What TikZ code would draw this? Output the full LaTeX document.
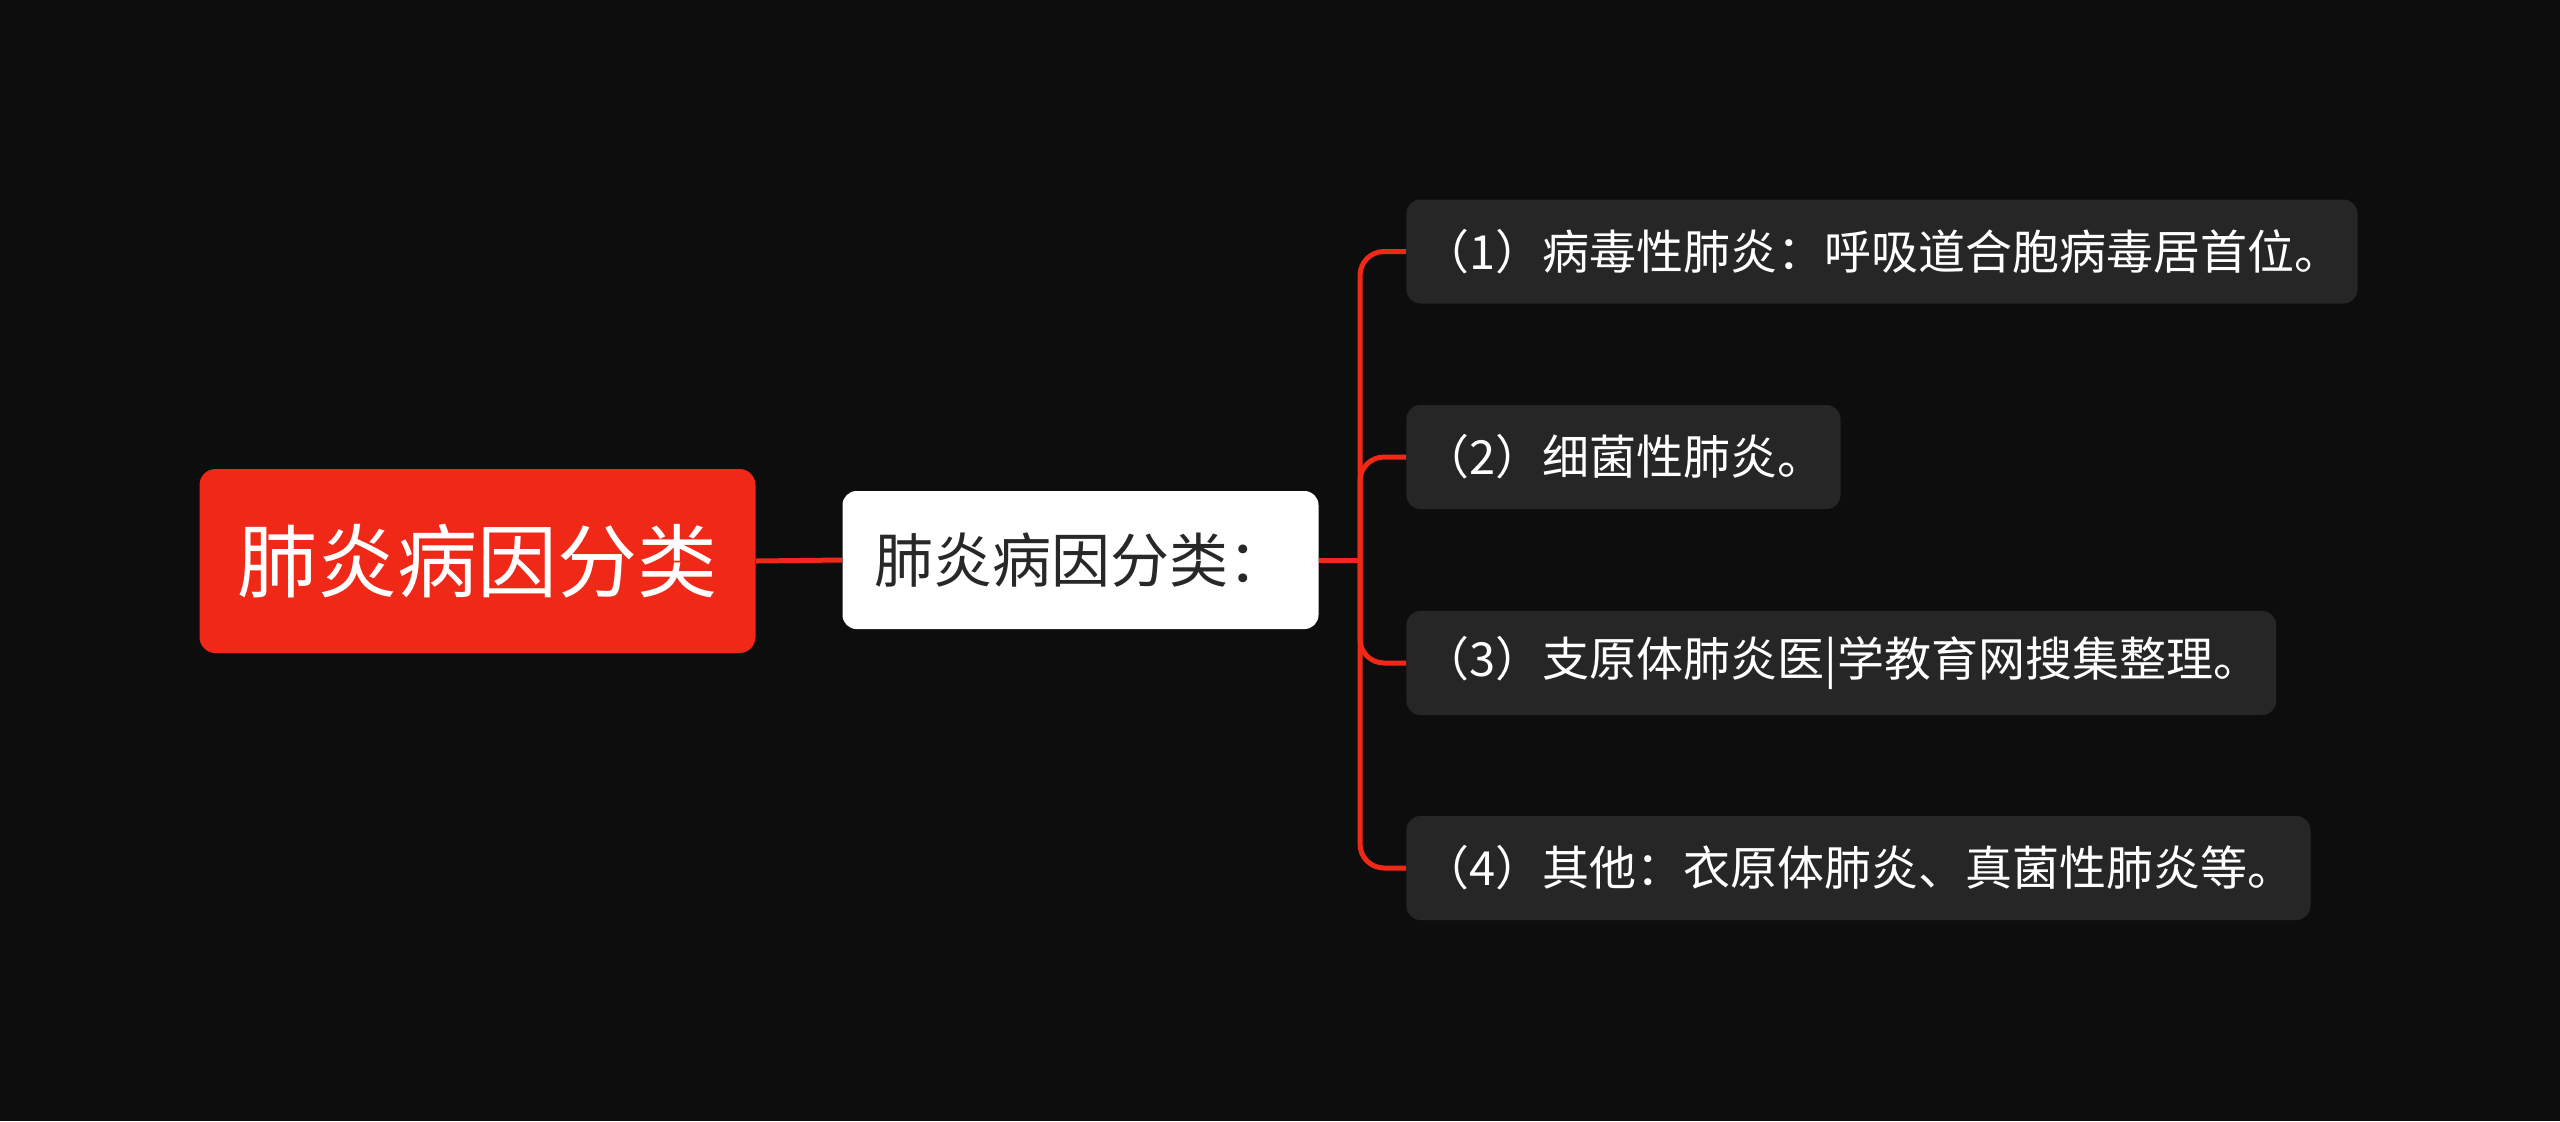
\documentclass[tikz,border=0pt]{standalone}
\usepackage{fontspec}
\usepackage{tikz}
\usetikzlibrary{positioning,calc}
\newfontfamily\cjk{Noto Sans CJK SC}
\definecolor{bgdark}{RGB}{13,13,13}
\definecolor{rootred}{RGB}{240,40,24}
\definecolor{leafgray}{RGB}{38,38,38}
\definecolor{midtext}{RGB}{40,40,40}

\begin{document}
\begin{tikzpicture}[x=1pt,y=1pt,
    every node/.style={font=\cjk},
    rootbox/.style={rounded corners=8pt,fill=rootred,text=white,
      minimum width=278pt,minimum height=92pt,font=\cjk\fontsize{40}{48}\selectfont},
    midbox/.style={rounded corners=7pt,fill=white,text=midtext,
      minimum width=238pt,minimum height=69pt,font=\cjk\fontsize{29.5}{36}\selectfont},
    leafbox/.style={rounded corners=7pt,fill=leafgray,text=white,anchor=west,
      inner xsep=8pt,minimum height=52pt,font=\cjk\fontsize{23.5}{28}\selectfont},
    link/.style={line width=2.5pt,draw=rootred}]
        \useasboundingbox (0,0) rectangle (1280,-560.5);
        \fill[bgdark] (0,0) rectangle (1280,-560.5);
        \node[rootbox] (root) at (238.75,-280.5) {肺炎病因分类};
        \node[midbox] (mid) at (540.25,-280) {肺炎病因分类：};
        \node[leafbox] (l1) at (703,-125.75) {（1）病毒性肺炎：呼吸道合胞病毒居首位。};
        \node[leafbox] (l2) at (703,-228.5) {（2）细菌性肺炎。};
        \node[leafbox] (l3) at (703,-331.5) {（3）支原体肺炎医|学教育网搜集整理。};
        \node[leafbox] (l4) at (703,-434) {（4）其他：衣原体肺炎、真菌性肺炎等。};
        \coordinate (fork) at (680,-280);
        \draw[link] (root.east)--(mid.west);
        \draw[link] (mid.east)--(fork);
        \foreach \leaf in {l1,l2,l3,l4}
          \draw[link,rounded corners=12pt] (fork) |- (\leaf.west);
      \end{tikzpicture}
\end{document}
